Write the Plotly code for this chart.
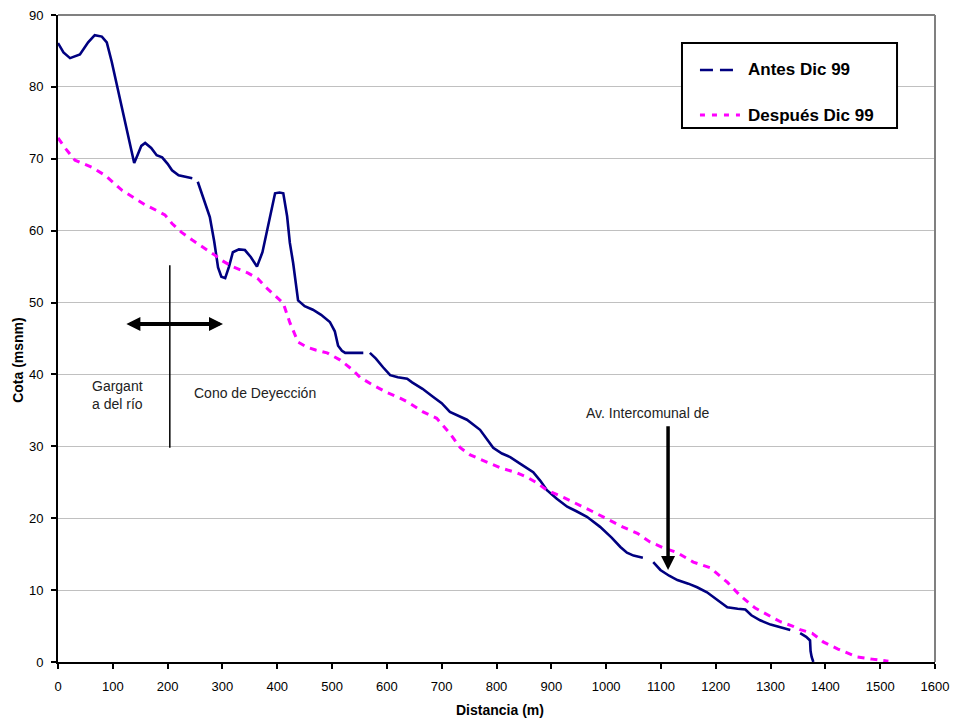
import plotly.graph_objects as go

# ---------------- data ----------------
antes_x = [0, 10, 22, 40, 55, 67, 80, 89, 98, 108, 115, 122, 130, 139, 145, 152, 159, 170, 180, 190,
           200, 208, 220, 232, 245, None, 255, 265, 277, 285, 292, 298, 305, 312, 319, 330, 341, 352,
           363, 373, 383, 390, 396, 404, 411, 418, 423, 429, 434, 438, 450, 465, 480, 496, 505, 511,
           518, 524, 540, 557, None, 569, 580, 593, 606, 620, 637, 646, 665, 684, 700, 715, 730, 746,
           770, 794, 810, 825, 845, 867, 880, 892, 910, 929, 945, 965, 989, 1010, 1026, 1038, 1050,
           1067, None, 1086, 1099, 1115, 1130, 1150, 1166, 1184, 1200, 1221, 1240, 1254, 1265, 1281,
           1300, 1327, 1336, None, 1354, 1365, 1372, 1373, 1375, 1378]
antes_y = [86.1, 84.8, 84.0, 84.5, 86.2, 87.2, 87.0, 86.2, 83.5, 80.0, 77.5, 75.4, 72.5, 69.4, 70.5,
           71.8, 72.2, 71.5, 70.5, 70.2, 69.3, 68.4, 67.7, 67.5, 67.3, None, 66.8, 64.5, 61.9, 58.5,
           54.9, 53.6, 53.4, 55.0, 57.0, 57.4, 57.3, 56.3, 55.0, 57.0, 60.5, 63.0, 65.2, 65.3, 65.2,
           62.0, 58.3, 55.5, 52.5, 50.3, 49.5, 49.0, 48.3, 47.3, 46.0, 44.0, 43.3, 43.0, 43.0, 43.0,
           None, 43.0, 42.2, 41.0, 39.9, 39.6, 39.4, 38.9, 38.0, 36.9, 36.0, 34.8, 34.3, 33.7, 32.3,
           29.8, 29.0, 28.5, 27.5, 26.4, 25.2, 23.9, 22.7, 21.6, 21.0, 20.2, 18.8, 17.3, 16.0, 15.2,
           14.8, 14.5, None, 13.9, 12.8, 12.0, 11.4, 10.9, 10.4, 9.7, 8.8, 7.6, 7.4, 7.3, 6.5, 5.8,
           5.2, 4.7, 4.45, None, 4.0, 3.5, 3.0, 1.5, 0.7, 0.0]

despues_x = [0, 15, 31, 45, 62, 86, 100, 117, 140, 159, 180, 195, 208, 225, 245, 265, 286, 300, 318,
             347, 365, 378, 395, 411, 423, 438, 454, 470, 491, 515, 538, 551, 575, 600, 624, 637, 666,
             691, 715, 734, 752, 783, 807, 838, 856, 874, 892, 922, 953, 976, 1007, 1030, 1057, 1080,
             1104, 1130, 1159, 1190, 1221, 1245, 1272, 1295, 1318, 1340, 1354, 1376, 1396, 1423, 1440,
             1458, 1485, 1515]
despues_y = [72.9, 71.3, 69.8, 69.3, 68.8, 67.7, 66.8, 65.6, 64.5, 63.6, 62.8, 62.2, 61.0, 59.8, 58.7,
             57.7, 56.6, 55.8, 55.0, 54.1, 53.3, 52.2, 51.0, 49.9, 47.2, 44.5, 43.8, 43.4, 43.0, 42.0,
             40.6, 39.6, 38.5, 37.5, 36.7, 36.2, 34.8, 33.9, 31.8, 29.8, 28.8, 27.8, 27.0, 26.3, 25.7,
             24.9, 23.9, 22.9, 21.8, 20.9, 19.7, 18.8, 17.9, 16.7, 15.9, 15.2, 13.9, 13.1, 11.1, 9.2,
             7.5, 6.5, 5.6, 5.0, 4.5, 4.0, 2.8, 1.8, 1.3, 0.7, 0.4, 0.1]

series_names = ["Antes Dic 99", "Después Dic 99"]
x_ticks = list(range(0, 1601, 100))
y_ticks = list(range(0, 91, 10))

NAVY = "#000080"
MAGENTA = "#FF00FF"
FONT = "Arial, 'Liberation Sans', sans-serif"

fig = go.Figure()
fig.add_trace(go.Scatter(x=antes_x, y=antes_y, mode="lines", name=series_names[0],
                         line=dict(color=NAVY, width=2.6), connectgaps=False, showlegend=False))
fig.add_trace(go.Scatter(x=despues_x, y=despues_y, mode="lines", name=series_names[1],
                         line=dict(color=MAGENTA, width=3, dash="7px,6px"), showlegend=False))

shapes = []
# top & right gray frame
shapes.append(dict(type="line", xref="paper", yref="paper", x0=0, x1=1, y0=1, y1=1,
                   line=dict(color="#808080", width=2)))
shapes.append(dict(type="line", xref="paper", yref="paper", x0=1, x1=1, y0=0, y1=1,
                   line=dict(color="#808080", width=2)))
# vertical divider line
shapes.append(dict(type="line", xref="x", yref="y", x0=204, x1=204, y0=29.8, y1=55.2,
                   line=dict(color="black", width=1.5)))
# legend box
shapes.append(dict(type="rect", xref="paper", yref="paper", x0=0.7115, x1=0.9567, y0=0.8253, y1=0.9567,
                   line=dict(color="black", width=2), fillcolor="white", layer="above"))
shapes.append(dict(type="line", xref="paper", yref="paper", x0=0.732, x1=0.7776, y0=0.915, y1=0.915,
                   line=dict(color=NAVY, width=2.5, dash="13px,7px")))
shapes.append(dict(type="line", xref="paper", yref="paper", x0=0.732, x1=0.7776, y0=0.8454, y1=0.8454,
                   line=dict(color=MAGENTA, width=3, dash="5px,7px")))

annotations = [
    dict(xref="paper", yref="paper", x=0.7845, y=0.915, text="<b>" + series_names[0] + "</b>",
         showarrow=False, xanchor="left", yanchor="middle", font=dict(size=17, color="black", family=FONT)),
    dict(xref="paper", yref="paper", x=0.7845, y=0.8454, text="<b>" + series_names[1] + "</b>",
         showarrow=False, xanchor="left", yanchor="middle", font=dict(size=17, color="black", family=FONT)),
    dict(x=108, y=37.1, text="Gargant<br>a del río", showarrow=False, align="left",
         xanchor="center", yanchor="middle", font=dict(size=14, color="#222", family=FONT)),
    dict(x=359, y=37.4, text="Cono de Deyección", showarrow=False,
         xanchor="center", yanchor="middle", font=dict(size=14, color="#222", family=FONT)),
    dict(x=1075, y=34.6, text="Av. Intercomunal de", showarrow=False,
         xanchor="center", yanchor="middle", font=dict(size=14, color="#222", family=FONT)),
    # horizontal double arrow
    dict(x=301, y=47, ax=122, ay=47, axref="x", ayref="y", text="", showarrow=True,
         arrowhead=2, arrowside="end+start", arrowwidth=4, arrowsize=0.7, arrowcolor="black"),
    # vertical arrow
    dict(x=1113, y=12.8, ax=1113, ay=33, axref="x", ayref="y", text="", showarrow=True,
         arrowhead=2, arrowwidth=3.5, arrowsize=0.8, arrowcolor="black"),
    # axis titles
    dict(xref="paper", yref="paper", x=0.504, y=-0.074, text="<b>Distancia (m)</b>", showarrow=False,
         xanchor="center", yanchor="middle", font=dict(size=14, color="black", family=FONT)),
    dict(xref="paper", yref="paper", x=-0.0456, y=0.467, text="<b>Cota (msnm)</b>", showarrow=False,
         textangle=-90, xanchor="center", yanchor="middle", font=dict(size=14, color="black", family=FONT)),
]

fig.update_layout(
    width=955, height=723,
    margin=dict(l=58, r=20, t=15, b=61),
    plot_bgcolor="white", paper_bgcolor="white",
    font=dict(family=FONT, size=13, color="black"),
    shapes=shapes, annotations=annotations,
    showlegend=False,
    xaxis=dict(range=[0, 1600], tickvals=x_ticks, ticktext=[str(v) for v in x_ticks],
               showgrid=False, zeroline=False, showline=True, linecolor="black", linewidth=2,
               ticks="outside", ticklen=5, tickwidth=2, tickcolor="black", automargin=False,
               ticklabelstandoff=6, tickfont=dict(size=13, color="black")),
    yaxis=dict(range=[0, 90], tickvals=y_ticks, ticktext=[str(v) for v in y_ticks],
               showgrid=True, gridcolor="#C0C0C0", gridwidth=1, zeroline=False,
               showline=True, linecolor="black", linewidth=2, automargin=False,
               ticks="outside", ticklen=5, tickwidth=2, tickcolor="black",
               ticklabelstandoff=5, tickfont=dict(size=13, color="black")),
)

fig.write_html("out.html")
